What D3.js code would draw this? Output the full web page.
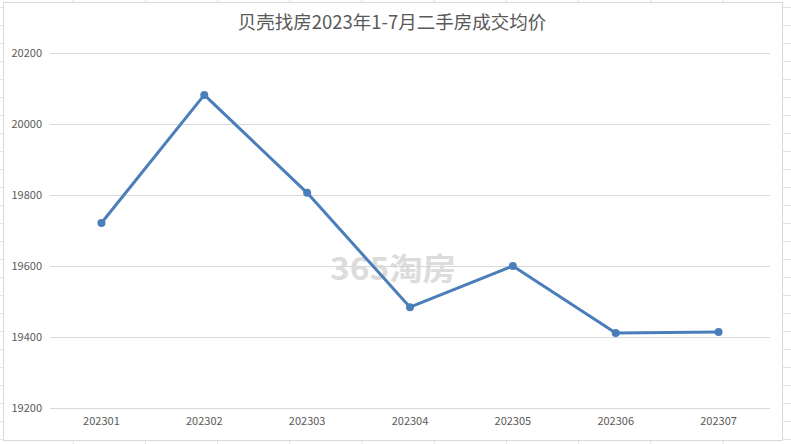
<!DOCTYPE html>
<html><head><meta charset="utf-8">
<script src="https://cdn.jsdelivr.net/npm/d3@7"></script>
<style>html,body{margin:0;padding:0;background:#fff;}</style>
</head><body>
<svg id="c" width="791" height="444"></svg>
<script>
const categories = ["202301","202302","202303","202304","202305","202306","202307"];
const values = [19721, 20082, 19806, 19484, 19600, 19411, 19414];
const yTicks = [19200, 19400, 19600, 19800, 20000, 20200];
const title = "贝壳找房2023年1-7月二手房成交均价";

const svg = d3.select("#c");
const W = 791, H = 444;
const font = "'Microsoft YaHei','Noto Sans CJK SC','DejaVu Sans',sans-serif";

// spreadsheet cell grid behind chart
const bg = svg.append("g");
d3.range(1, 12).forEach(i => {
  bg.append("line").attr("x1", i*72.2+1).attr("x2", i*72.2+1).attr("y1", 0).attr("y2", H).attr("stroke", "#e3e3e3");
});
d3.range(0, 26).forEach(i => {
  bg.append("line").attr("x1", 0).attr("x2", W).attr("y1", 7.5 + i*18).attr("y2", 7.5 + i*18).attr("stroke", "#e3e3e3");
});

// chart area
svg.append("rect").attr("x", 3.5).attr("y", 2.5).attr("width", 779).attr("height", 438)
  .attr("fill", "#fff").attr("stroke", "#d9d9d9");

const m = {left: 50, right: 770, top: 53, bottom: 408};
const x = d3.scaleBand().domain(categories).range([m.left, m.right]);
const y = d3.scaleLinear().domain([19200, 20200]).range([m.bottom, m.top]);

// gridlines
svg.append("g").selectAll("line").data(yTicks).join("line")
  .attr("x1", m.left).attr("x2", m.right)
  .attr("y1", d => Math.round(y(d)) + 0.5).attr("y2", d => Math.round(y(d)) + 0.5)
  .attr("stroke", "#d9d9d9").attr("stroke-width", 1);

// y axis labels
const yAxis = d3.axisLeft(y).tickValues(yTicks).tickSize(0).tickPadding(8).tickFormat(d3.format("d"));
const gy = svg.append("g").attr("transform", `translate(${m.left},0)`).call(yAxis);
gy.select(".domain").remove();
gy.selectAll("text").attr("fill", "#595959").style("font-size", "11px").style("font-family", font);

// x axis labels
const xAxis = d3.axisBottom(x).tickSize(0).tickPadding(9);
const gx = svg.append("g").attr("transform", `translate(0,${m.bottom})`).call(xAxis);
gx.select(".domain").remove();
gx.selectAll("text").attr("fill", "#595959").style("font-size", "11px").style("font-family", font);

// title
svg.append("text").attr("x", 392).attr("y", 29).attr("text-anchor", "middle")
  .attr("fill", "#595959").style("font-size", "18.5px").style("font-family", font).text(title);

// watermark
svg.append("text").attr("x", 393).attr("y", 280).attr("text-anchor", "middle")
  .attr("fill", "#d6d6d6").attr("opacity", 0.85).style("font-size", "31px").style("font-weight", "bold")
  .style("font-family", font).attr("textLength", 126).attr("lengthAdjust", "spacingAndGlyphs").text("365淘房");

// line
const data = categories.map((c, i) => ({c, v: values[i]}));
const line = d3.line().x(d => x(d.c) + x.bandwidth()/2).y(d => y(d.v));
svg.append("path").datum(data).attr("d", line).attr("fill", "none")
  .attr("stroke", "#4a7ebb").attr("stroke-width", 3).attr("stroke-linejoin", "round");
svg.append("g").selectAll("circle").data(data).join("circle")
  .attr("cx", d => x(d.c) + x.bandwidth()/2).attr("cy", d => y(d.v)).attr("r", 4)
  .attr("fill", "#4a7ebb");
</script>
</body></html>
